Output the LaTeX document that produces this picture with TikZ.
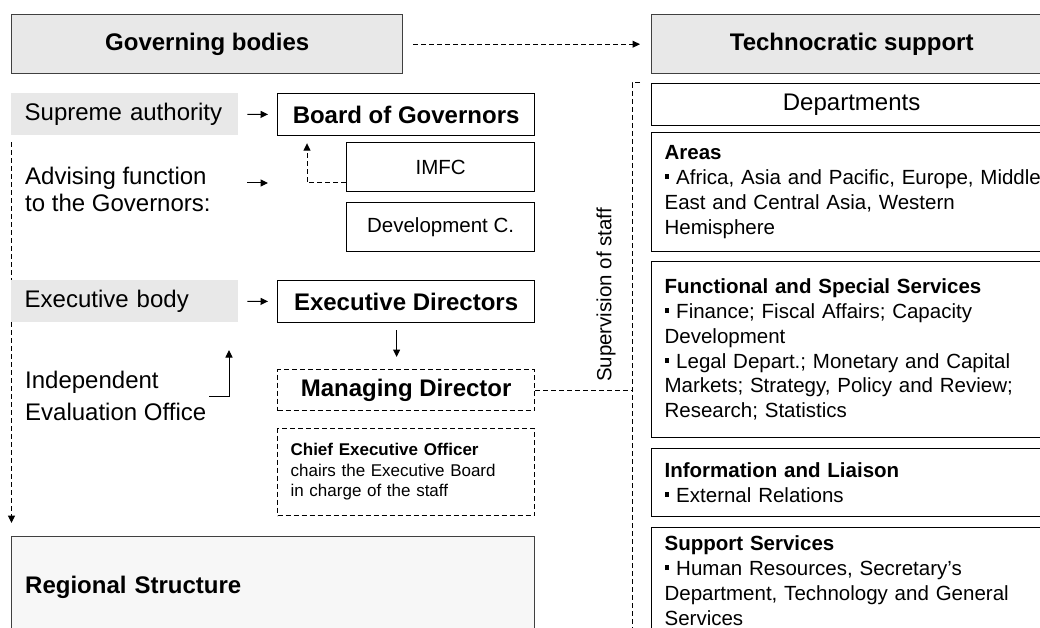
\documentclass[tikz,border=0pt]{standalone}
\usepackage{fontspec}
\setmainfont{Liberation Sans}
\usepackage{tikz}
\usetikzlibrary{arrows.meta}

\newcommand{\sqbul}{\raisebox{5.5pt}{\rule{4.8pt}{4.8pt}}\ }
\newcommand{\fsz}[2]{\fontsize{#1}{#2}\selectfont}
\frenchspacing

\begin{document}
\begin{tikzpicture}[x=1pt, y=-1pt]
  \tikzstyle{head} = [draw=black!75, line width=1.4pt, fill=black!9, anchor=north west, font=\fsz{24}{28}\bfseries]
  \tikzstyle{level} = [fill=black!9, anchor=north west, inner xsep=13.5pt, text width=200pt, align=left, minimum height=42pt, font=\fsz{24}{27}]
  \tikzstyle{body} = [draw, line width=1.2pt, anchor=north west, minimum width=257pt, font=\fsz{24}{28}\bfseries]
  \tikzstyle{dbody} = [body, dash pattern=on 5pt off 3pt]
  \tikzstyle{cttee} = [draw, line width=1.2pt, anchor=north west, minimum width=188pt, minimum height=49pt, font=\fsz{20.5}{25}]
  \tikzstyle{dept} = [draw, line width=1.2pt, anchor=north west, inner xsep=13pt, text width=400pt, align=left, font=\fsz{20.5}{24.8}]
  \tikzstyle{sidetext} = [anchor=west, inner sep=0pt, align=left]
  \tikzstyle{arr} = [-{Triangle[length=7.5pt, width=7pt]}, line width=1pt]
  \tikzstyle{darr} = [arr, dash pattern=on 5pt off 3pt]
  \tikzstyle{dline} = [line width=1pt, dash pattern=on 5pt off 3pt]

  \useasboundingbox (0,0) rectangle (1040,628);
  \clip (0,0) rectangle (1040,628);

  % top headers
  \node[head, minimum width=391pt, minimum height=59pt] (gov) at (11,14) {Governing bodies};
  \node[head, minimum width=400pt, minimum height=59pt] (tech) at (651,14) {Technocratic support};
  \draw[darr, shorten <=10pt, shorten >=11pt] (gov.east) -- (tech.west);

  % governing side
  \node[level] (sup) at (11,93) {Supreme authority};
  \node[body, minimum height=42pt] (bog) at (277,93) {Board of Governors};
  \draw[arr, shorten <=9pt, shorten >=9pt] (sup) -- (bog);

  \node[cttee] (imfc) at (346,142) {IMFC};
  \node[cttee] (devc) at (346,202) {Development C.};
  \draw[darr, shorten >=7pt] ([yshift=-15.5pt]imfc.west) -| ([xshift=30pt]bog.south west);

  \node[sidetext, font=\fsz{24}{27}] (adv) at (25,189) {Advising function\\to the Governors:};
  \coordinate (advfrom) at (247,183);
  \coordinate (advto) at (268,183);
  \draw[arr] (advfrom) -- (advto);

  \node[level] (exb) at (11,280) {Executive body};
  \node[body, minimum height=42pt] (exd) at (277,280) {Executive Directors};
  \draw[arr, shorten <=9pt, shorten >=9pt] (exb) -- (exd);
  \draw[dline, shorten <=7pt] ([xshift=0.5pt]sup.south west) -- ([xshift=0.5pt]exb.north west);

  \node[sidetext, font=\fsz{24}{32}] (ieo) at (25,396) {Independent\\Evaluation Office};
  \coordinate (ieotip) at (229,350);
  \draw[arr, shorten <=3pt] (ieo.east) -| (ieotip);

  \node[dbody, minimum height=41pt] (md) at (277,369) {Managing Director};
  \draw[arr, shorten <=7pt, shorten >=12pt] ([xshift=-9.5pt]exd.south) -- ([xshift=-9.5pt]md.north);

  \node[dbody, minimum height=87pt, inner xsep=13pt, text width=231pt, align=left, font=\fsz{17}{20.5}] (ceo) at (277,428)
    {\textbf{Chief Executive Officer}\\chairs the Executive Board\\in charge of the staff};

  \node[draw=black!75, line width=1.4pt, fill=black!3, anchor=north west, minimum width=523pt, minimum height=102pt,
        inner xsep=13.5pt, text width=496pt, align=left, font=\fsz{24}{28}\bfseries] (reg) at (11,536) {Regional Structure};
  \draw[darr, shorten >=13pt] ([xshift=0.5pt]exb.south west) -- ([xshift=0.5pt]reg.north west);

  % technocratic side
  \node[draw, line width=1.2pt, anchor=north west, minimum width=400pt, minimum height=42pt, font=\fsz{24}{28}] (dep) at (651,83) {Departments};
  \coordinate (svtop) at (640,83);
  \coordinate (svbot) at (632,640);
  \draw[dline] (svtop) -| (svbot);
  \node[rotate=90, font=\fsz{20.5}{25}] (svlab) at (606,295) {Supervision of staff};
  \draw[dline] (md.east) -- (md.east -| svbot);

  \node[dept, minimum height=119pt] (areas) at (651,132)
    {\textbf{Areas}\\\sqbul Africa, Asia and Pacific, Europe, Middle\\East and Central Asia, Western\\Hemisphere};
  \node[dept, minimum height=176pt] (func) at (651,261)
    {\textbf{Functional and Special Services}\\\sqbul Finance; Fiscal Affairs; Capacity\\Development\\\sqbul Legal Depart.; Monetary and Capital\\Markets; Strategy, Policy and Review;\\Research; Statistics};
  \node[dept, minimum height=68pt] (info) at (651,448)
    {\textbf{Information and Liaison}\\\sqbul External Relations};
  \node[dept, minimum height=106pt] (supp) at (651,527)
    {\textbf{Support Services}\\\sqbul Human Resources, Secretary’s\\Department, Technology and General\\Services};
\end{tikzpicture}
\end{document}
